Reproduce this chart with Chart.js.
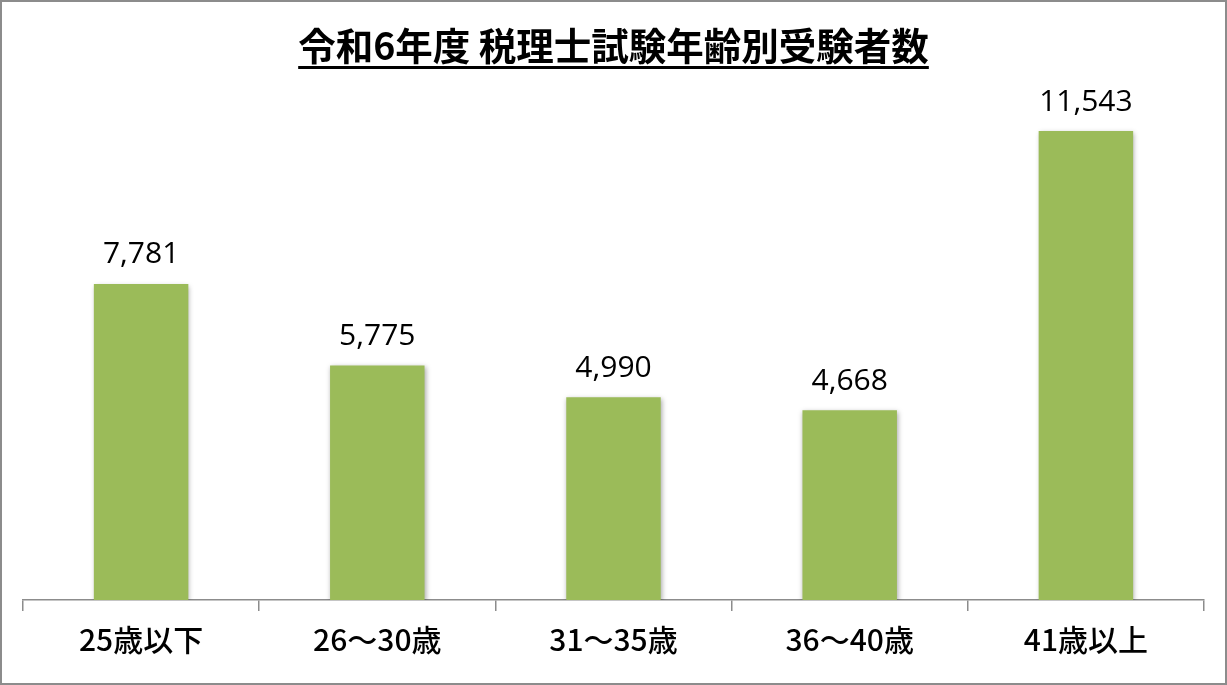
<!DOCTYPE html>
<html>
<head>
<meta charset="utf-8">
<script src="https://cdn.jsdelivr.net/npm/chart.js@4/dist/chart.umd.min.js"></script>
<style>
  html, body { margin: 0; padding: 0; background: #fff; }
  #frame { width: 1227px; height: 685px; box-sizing: border-box; border: 2px solid #8c8c8c; background: #fff; }
  canvas { display: block; }
</style>
</head>
<body>
<div id="frame"><canvas id="chart" width="1223" height="681"></canvas></div>
<script>
const chartTitle = '令和6年度 税理士試験年齢別受験者数';
const categories = ['25歳以下', '26〜30歳', '31〜35歳', '36〜40歳', '41歳以上'];
const examinees = [7781, 5775, 4990, 4668, 11543];

const barColor = '#9bbb59';
const axisColor = '#8c8c8c';
const jpFont = '"Noto Sans CJK JP", "Noto Sans", sans-serif';

// title with underline, drawn like the spreadsheet one
const titlePlugin = {
  id: 'underlinedTitle',
  afterDraw(chart) {
    const ctx = chart.ctx;
    const x = chart.width / 2;
    ctx.save();
    ctx.font = 'bold 37.5px ' + jpFont;
    ctx.fillStyle = '#000';
    ctx.textAlign = 'center';
    ctx.textBaseline = 'middle';
    ctx.fillText(chartTitle, x, 44);
    const w = ctx.measureText(chartTitle).width;
    ctx.fillRect(x - w / 2, 64, w, 3);
    ctx.restore();
  },
};

// value labels above every bar
const valueLabels = {
  id: 'valueLabels',
  afterDatasetsDraw(chart) {
    const ctx = chart.ctx;
    const meta = chart.getDatasetMeta(0);
    ctx.save();
    ctx.font = '30px "Open Sans", "Noto Sans", sans-serif';
    ctx.fillStyle = '#000';
    ctx.textAlign = 'center';
    ctx.textBaseline = 'middle';
    meta.data.forEach((bar, i) => {
      ctx.fillText(examinees[i].toLocaleString('en-US'), bar.x, bar.y - 29);
    });
    ctx.restore();
  },
};

// soft shadow under the bars
const barShadow = {
  id: 'barShadow',
  beforeDatasetDraw(chart) {
    const ctx = chart.ctx;
    ctx.save();
    ctx.shadowColor = 'rgba(0,0,0,0.35)';
    ctx.shadowBlur = 5;
    ctx.shadowOffsetX = 1;
    ctx.shadowOffsetY = 2;
  },
  afterDatasetDraw(chart) {
    chart.ctx.restore();
  },
};

new Chart(document.getElementById('chart'), {
  type: 'bar',
  data: {
    labels: categories,
    datasets: [{
      data: examinees,
      backgroundColor: barColor,
      borderWidth: 0,
      categoryPercentage: 1,
      barPercentage: 0.4,
    }],
  },
  options: {
    responsive: false,
    animation: false,
    layout: { padding: { top: 110.5, left: 21, right: 21, bottom: 14 } },
    plugins: {
      legend: { display: false },
      title: { display: false },
      tooltip: { enabled: false },
    },
    scales: {
      x: {
        offset: true,
        border: { display: true, color: axisColor, width: 1.5 },
        grid: {
          offset: true,
          drawOnChartArea: false,
          drawTicks: true,
          tickLength: 11,
          color: axisColor,
          lineWidth: 1.5,
        },
        ticks: {
          color: '#000',
          padding: 11,
          font: { family: jpFont, size: 30, weight: 500 },
        },
      },
      y: {
        display: false,
        min: 0,
        max: 12000,
      },
    },
  },
  plugins: [barShadow, valueLabels, titlePlugin],
});
</script>
</body>
</html>
